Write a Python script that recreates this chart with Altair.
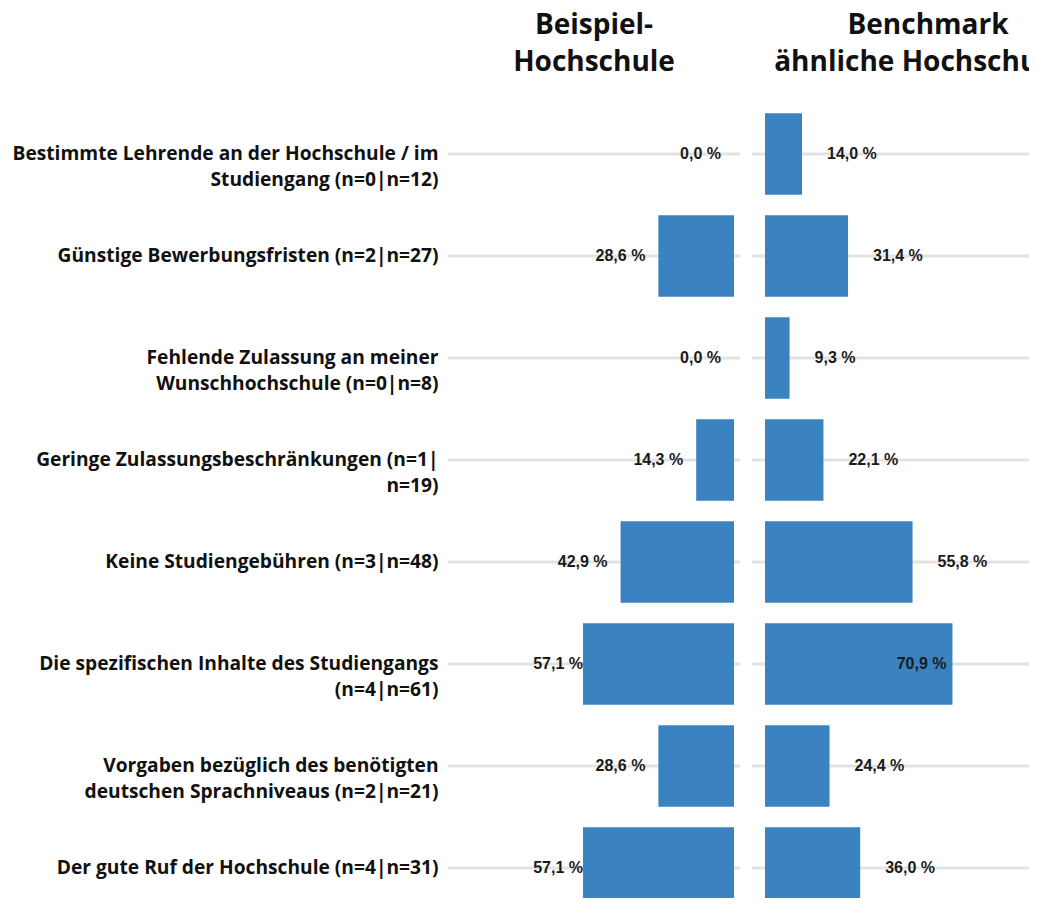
import altair as alt
import pandas as pd

categories = [
    "Bestimmte Lehrende an der Hochschule / im\nStudiengang (n=0|n=12)",
    "Günstige Bewerbungsfristen (n=2|n=27)",
    "Fehlende Zulassung an meiner\nWunschhochschule (n=0|n=8)",
    "Geringe Zulassungsbeschränkungen (n=1|\nn=19)",
    "Keine Studiengebühren (n=3|n=48)",
    "Die spezifischen Inhalte des Studiengangs\n(n=4|n=61)",
    "Vorgaben bezüglich des benötigten\ndeutschen Sprachniveaus (n=2|n=21)",
    "Der gute Ruf der Hochschule (n=4|n=31)",
]
beispiel = [0.0, 28.6, 0.0, 14.3, 42.9, 57.1, 28.6, 57.1]
benchmark = [14.0, 31.4, 9.3, 22.1, 55.8, 70.9, 24.4, 36.0]

title_left = ["Beispiel-", "Hochschule"]
title_right = ["Benchmark", "ähnliche Hochschulen"]

df = pd.DataFrame({"cat": categories, "bsp": beispiel, "bm": benchmark})
one = pd.DataFrame({"k": [0]})

# plot area geometry (pixels)
W, H = 581, 795
PAD_L, PAD_T = 440, 95
W1 = 292          # left panel width
R0 = 304          # right panel start
BAR = "#2f7bbd"
GRID = "#e3e3e3"
TXT = "#1a1a1a"

yscale = alt.Scale(paddingInner=0.2, paddingOuter=0.1, range=[0, 816])
y_axis = alt.Y(
    "cat:N", sort=categories, title=None, scale=yscale,
    axis=alt.Axis(
        labelExpr="split(datum.label, '\\n')",
        labelFont="Open Sans", labelFontWeight="bold", labelFontSize=19.2,
        labelLineHeight=26, labelLimit=700, labelPadding=10, labelColor="#111111",
        ticks=False, domain=False, grid=False,
    ),
)

# scales: 2.644 px per percentage point; left zero at 286 px, right zero at 317 px
lscale = alt.Scale(domain=[286 / 2.644 - W / 2.644, 286 / 2.644], reverse=True,
                   nice=False, zero=False)
rscale = alt.Scale(domain=[-317 / 2.644, (W - 317) / 2.644], nice=False, zero=False)

base = alt.Chart(df).transform_calculate(
    lbl_l="replace(format(datum.bsp, '.1f'), '.', ',') + ' %'",
    lbl_r="replace(format(datum.bm, '.1f'), '.', ',') + ' %'",
)
txt_kw = dict(baseline="middle", font="Liberation Sans", fontWeight="bold",
              fontSize=16, color=TXT)

# left panel
grid_l = base.mark_rule(color=GRID, strokeWidth=3).encode(
    y=y_axis, x=alt.value(0), x2=alt.value(W1))
bars_l = base.mark_bar(color=BAR, opacity=0.95).encode(
    y=y_axis, x=alt.X("bsp:Q", scale=lscale, axis=None))
txt_l_out = base.transform_filter("datum.bsp < 50").mark_text(
    align="right", dx=-13, **txt_kw).encode(
    y=y_axis, x=alt.X("bsp:Q", scale=lscale, axis=None), text="lbl_l:N")
txt_l_in = base.transform_filter("datum.bsp >= 50").mark_text(
    align="right", dx=0, **txt_kw).encode(
    y=y_axis, x=alt.X("bsp:Q", scale=lscale, axis=None), text="lbl_l:N")

# right panel
grid_r = base.mark_rule(color=GRID, strokeWidth=3).encode(
    y=y_axis, x=alt.value(R0), x2=alt.value(W + 10))
bars_r = base.mark_bar(color=BAR, opacity=0.95).encode(
    y=y_axis, x=alt.X("bm:Q", scale=rscale, axis=None))
txt_r_out = base.transform_filter("datum.bm < 60").mark_text(
    align="left", dx=25, **txt_kw).encode(
    y=y_axis, x=alt.X("bm:Q", scale=rscale, axis=None), text="lbl_r:N")
txt_r_in = base.transform_filter("datum.bm >= 60").mark_text(
    align="right", dx=-6, **txt_kw).encode(
    y=y_axis, x=alt.X("bm:Q", scale=rscale, axis=None), text="lbl_r:N")

# panel headings
head_kw = dict(font="Open Sans", fontWeight="bold", fontSize=28, lineHeight=37,
               align="center", baseline="middle", color="#111111")
head_l = alt.Chart(one).mark_text(text=title_left, **head_kw).encode(
    x=alt.value(W1 / 2), y=alt.value(-77))
head_r = alt.Chart(one).mark_text(text=title_right, **head_kw).encode(
    x=alt.value(480), y=alt.value(-77))

chart = alt.layer(
    grid_l, grid_r, bars_l, bars_r, txt_l_out, txt_l_in, txt_r_out, txt_r_in,
    head_l, head_r,
).resolve_scale(x="independent").properties(
    width=W, height=H,
    autosize=alt.AutoSizeParams(type="none"),
    padding={"left": PAD_L, "top": PAD_T, "right": 0, "bottom": 0},
    background="white",
).configure_view(stroke=None, strokeWidth=0)

chart.save("out.html", embed_options={"renderer": "svg", "actions": False})
